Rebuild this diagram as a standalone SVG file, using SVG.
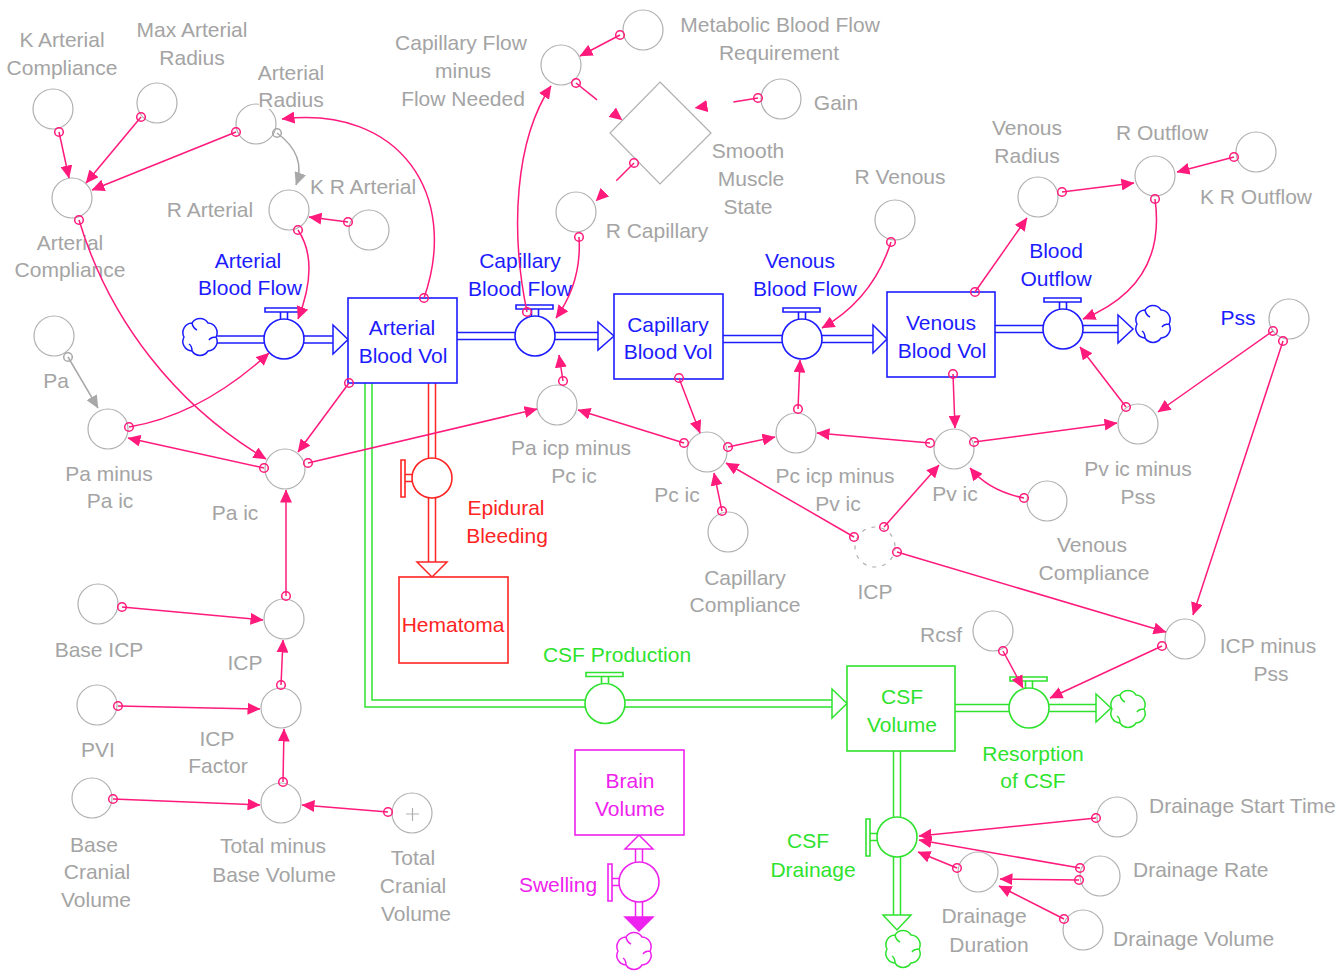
<svg xmlns="http://www.w3.org/2000/svg" width="1342" height="972" viewBox="0 0 1342 972">
<defs>
<style>
.aux{fill:none;stroke:#b0b0b0;stroke-width:1.2}
.t{font-family:"Liberation Sans",Arial,sans-serif;font-size:21px;text-anchor:middle;fill:#a4a4a4}
.ts{text-anchor:start}
.tb{fill:#1c1cff}.tr{fill:#ff2424}.tg{fill:#2ee22e}.tm{fill:#ee22ee}
.cn{fill:none;stroke:#ff1a7c;stroke-width:1.5;marker-start:url(#dot);marker-end:url(#ah)}
.cg{fill:none;stroke:#a8a8a8;stroke-width:1.5;marker-start:url(#dotg);marker-end:url(#ahg)}
.stk{fill:#fff;stroke-width:1.6}
.pipe{fill:none;stroke-width:8.5;stroke-linejoin:miter}
.core{fill:none;stroke:#fff;stroke-width:5.5;stroke-linejoin:miter}
.vlv{fill:#fff;stroke-width:1.6}
.ph{fill:#fff;stroke-width:1.5}
.cld{fill:#fff;stroke-width:1.5}
</style>
<marker id="ah" viewBox="0 0 13 12" markerUnits="userSpaceOnUse" markerWidth="13" markerHeight="12" refX="12.5" refY="6" orient="auto"><path d="M0,0L13,6L0,12z" fill="#ff1a7c"/></marker>
<marker id="dot" viewBox="0 0 12 12" markerUnits="userSpaceOnUse" markerWidth="12" markerHeight="12" refX="6" refY="6"><circle cx="6" cy="6" r="4.3" fill="none" stroke="#ff1a7c" stroke-width="1.5"/></marker>
<marker id="ahg" viewBox="0 0 13 12" markerUnits="userSpaceOnUse" markerWidth="13" markerHeight="12" refX="12.5" refY="6" orient="auto"><path d="M0,0L13,6L0,12z" fill="#a8a8a8"/></marker>
<marker id="dotg" viewBox="0 0 12 12" markerUnits="userSpaceOnUse" markerWidth="12" markerHeight="12" refX="6" refY="6"><circle cx="6" cy="6" r="4.3" fill="none" stroke="#a8a8a8" stroke-width="1.5"/></marker>
<g id="valve"><circle r="20"/><path d="M-19,-31h37v4h-37z"/><path d="M-3.5,-27v7M3.5,-27v7" fill="none"/></g>
<path id="cloud" d="M-8,-14A9.5,9.5 0 0 1 8,-14A9.5,9.5 0 0 1 16,0A9.5,9.5 0 0 1 8,14A9.5,9.5 0 0 1 -8,14A9.5,9.5 0 0 1 -16,0A9.5,9.5 0 0 1 -8,-14Z M-8,-14q1,5 5,7 M16,0q-5,0 -7,3 M-8,14q0,-5 -3,-7"/>
</defs>
<rect width="1342" height="972" fill="#fff"/>

<!-- Flows and stocks -->
<g id="arterial_blood_flow">
<path class="pipe" stroke="#1c1cff" d="M217,339.5H334"/><path class="core" d="M217,339.5H334"/>
<polygon class="ph" stroke="#1c1cff" points="333,325 348,339.5 333,354"/>
<use href="#cloud" class="cld" stroke="#1c1cff" x="200" y="337"/>
<use href="#valve" class="vlv" stroke="#1c1cff" x="284" y="339"/>
<text class="t tb"><tspan x="248" y="268">Arterial</tspan><tspan x="250" y="295">Blood Flow</tspan></text>
</g>
<g id="capillary_blood_flow">
<path class="pipe" stroke="#1c1cff" d="M457,336H599"/><path class="core" d="M457,336H599"/>
<polygon class="ph" stroke="#1c1cff" points="598,322 614,336 598,350"/>
<use href="#valve" class="vlv" stroke="#1c1cff" x="535" y="336"/>
<text class="t tb"><tspan x="520" y="268">Capillary</tspan><tspan x="520" y="296">Blood Flow</tspan></text>
</g>
<g id="venous_blood_flow">
<path class="pipe" stroke="#1c1cff" d="M723,339H874"/><path class="core" d="M723,339H874"/>
<polygon class="ph" stroke="#1c1cff" points="873,325 887,339 873,353"/>
<use href="#valve" class="vlv" stroke="#1c1cff" x="802" y="339"/>
<text class="t tb"><tspan x="800" y="268">Venous</tspan><tspan x="805" y="296">Blood Flow</tspan></text>
</g>
<g id="blood_outflow">
<path class="pipe" stroke="#1c1cff" d="M995,329H1119"/><path class="core" d="M995,329H1119"/>
<polygon class="ph" stroke="#1c1cff" points="1118,315 1133,329 1118,343"/>
<use href="#cloud" class="cld" stroke="#1c1cff" x="1153" y="324"/>
<use href="#valve" class="vlv" stroke="#1c1cff" x="1063" y="329"/>
<text class="t tb"><tspan x="1056" y="258">Blood</tspan><tspan x="1056" y="286">Outflow</tspan></text>
</g>
<g id="epidural_bleeding">
<path class="pipe" stroke="#ff2424" d="M432,383V563"/><path class="core" d="M432,383V563"/>
<polygon class="ph" stroke="#ff2424" points="417,562 432,577 447,562"/>
<use href="#valve" class="vlv" stroke="#ff2424" transform="translate(432,478) rotate(-90)"/>
<text class="t tr"><tspan x="506" y="515">Epidural</tspan><tspan x="507" y="543">Bleeding</tspan></text>
</g>
<g id="csf_production">
<path class="pipe" stroke="#2ee22e" d="M368.5,383V703.5H833"/><path class="core" d="M368.5,383V703.5H833"/>
<polygon class="ph" stroke="#2ee22e" points="832,689 847,703.5 832,718"/>
<use href="#valve" class="vlv" stroke="#2ee22e" x="605" y="703.5"/>
<text class="t tg" x="617" y="662">CSF Production</text>
</g>
<g id="resorption_of_csf">
<path class="pipe" stroke="#2ee22e" d="M955,708H1097"/><path class="core" d="M955,708H1097"/>
<polygon class="ph" stroke="#2ee22e" points="1096,694 1111,708 1096,722"/>
<use href="#cloud" class="cld" stroke="#2ee22e" x="1128" y="709"/>
<use href="#valve" class="vlv" stroke="#2ee22e" x="1029" y="708"/>
<text class="t tg"><tspan x="1033" y="761">Resorption</tspan><tspan x="1033" y="788">of CSF</tspan></text>
</g>
<g id="csf_drainage">
<path class="pipe" stroke="#2ee22e" d="M897,751V916"/><path class="core" d="M897,751V916"/>
<polygon class="ph" stroke="#2ee22e" points="883,915 897,930 911,915"/>
<use href="#cloud" class="cld" stroke="#2ee22e" x="903" y="949"/>
<use href="#valve" class="vlv" stroke="#2ee22e" transform="translate(897,837) rotate(-90)"/>
<text class="t tg"><tspan x="808" y="848">CSF</tspan><tspan x="813" y="877">Drainage</tspan></text>
</g>
<g id="swelling">
<path class="pipe" stroke="#ee22ee" d="M639,848V918"/><path class="core" d="M639,848V918"/>
<polygon class="ph" stroke="#ee22ee" points="625,849 639,835 653,849"/>
<polygon fill="#ee22ee" stroke="#ee22ee" stroke-width="1.5" points="625,917 639,931 653,917"/>
<use href="#cloud" class="cld" stroke="#ee22ee" x="634" y="951"/>
<use href="#valve" class="vlv" stroke="#ee22ee" transform="translate(639,882) rotate(-90)"/>
<text class="t tm" x="558" y="892">Swelling</text>
</g>

<g id="arterial_blood_vol"><rect class="stk" stroke="#1c1cff" x="348" y="298" width="109" height="85"/><text class="t tb"><tspan x="402" y="335">Arterial</tspan><tspan x="403" y="363">Blood Vol</tspan></text></g>
<g id="capillary_blood_vol"><rect class="stk" stroke="#1c1cff" x="614" y="294" width="109" height="85"/><text class="t tb"><tspan x="668" y="332">Capillary</tspan><tspan x="668" y="359">Blood Vol</tspan></text></g>
<g id="venous_blood_vol"><rect class="stk" stroke="#1c1cff" x="887" y="292" width="108" height="85"/><text class="t tb"><tspan x="941" y="330">Venous</tspan><tspan x="942" y="358">Blood Vol</tspan></text></g>
<g id="hematoma"><rect class="stk" stroke="#ff2424" x="399" y="577" width="109" height="86"/><text class="t tr" x="453" y="632">Hematoma</text></g>
<g id="csf_volume"><rect class="stk" stroke="#2ee22e" x="847" y="666" width="108" height="85"/><text class="t tg"><tspan x="902" y="704">CSF</tspan><tspan x="902" y="732">Volume</tspan></text></g>
<g id="brain_volume"><rect class="stk" stroke="#ee22ee" x="575" y="750" width="109" height="85"/><text class="t tm"><tspan x="630" y="788">Brain</tspan><tspan x="630" y="816">Volume</tspan></text></g>

<!-- Auxiliaries -->
<g id="k_arterial_compliance"><circle class="aux" cx="53" cy="109" r="20"/><text class="t"><tspan x="62" y="47">K Arterial</tspan><tspan x="62" y="75">Compliance</tspan></text></g>
<g id="max_arterial_radius"><circle class="aux" cx="157" cy="103" r="20"/><text class="t"><tspan x="192" y="37">Max Arterial</tspan><tspan x="192" y="65">Radius</tspan></text></g>
<g id="arterial_radius"><circle class="aux" cx="256" cy="124" r="20"/><rect x="259" y="91" width="64" height="18" fill="#fff"/><text class="t"><tspan x="291" y="80">Arterial</tspan><tspan x="291" y="107">Radius</tspan></text></g>
<g id="arterial_compliance"><circle class="aux" cx="72" cy="198" r="20"/><text class="t"><tspan x="70" y="250">Arterial</tspan><tspan x="70" y="277">Compliance</tspan></text></g>
<g id="r_arterial"><circle class="aux" cx="289" cy="210" r="20"/><text class="t" x="210" y="217">R Arterial</text></g>
<g id="k_r_arterial"><circle class="aux" cx="369" cy="230" r="20"/><text class="t" x="363" y="194">K R Arterial</text></g>
<g id="capillary_flow_minus_flow_needed"><circle class="aux" cx="561" cy="65" r="20"/><text class="t"><tspan x="461" y="50">Capillary Flow</tspan><tspan x="463" y="78">minus</tspan><tspan x="463" y="106">Flow Needed</tspan></text></g>
<g id="metabolic_blood_flow_requirement"><circle class="aux" cx="643" cy="30" r="20"/><text class="t"><tspan x="780" y="32">Metabolic Blood Flow</tspan><tspan x="779" y="60">Requirement</tspan></text></g>
<g id="smooth_muscle_state"><polygon class="aux" points="660,82 711,133 660,184 610,133"/><text class="t"><tspan x="748" y="158">Smooth</tspan><tspan x="751" y="186">Muscle</tspan><tspan x="748" y="214">State</tspan></text></g>
<g id="gain"><circle class="aux" cx="781" cy="99" r="20"/><text class="t" x="836" y="110">Gain</text></g>
<g id="r_capillary"><circle class="aux" cx="576" cy="212" r="20"/><text class="t" x="657" y="238">R Capillary</text></g>
<g id="r_venous"><circle class="aux" cx="895" cy="220" r="20"/><text class="t" x="900" y="184">R Venous</text></g>
<g id="venous_radius"><circle class="aux" cx="1038" cy="197" r="20"/><text class="t"><tspan x="1027" y="135">Venous</tspan><tspan x="1027" y="163">Radius</tspan></text></g>
<g id="r_outflow"><circle class="aux" cx="1155" cy="176" r="20"/><text class="t" x="1162" y="140">R Outflow</text></g>
<g id="k_r_outflow"><circle class="aux" cx="1256" cy="152" r="20"/><text class="t" x="1256" y="204">K R Outflow</text></g>
<g id="pa"><circle class="aux" cx="54" cy="336" r="20"/><text class="t" x="56" y="388">Pa</text></g>
<g id="pa_minus_pa_ic"><circle class="aux" cx="108" cy="429" r="20"/><text class="t"><tspan x="109" y="481">Pa minus</tspan><tspan x="110" y="508">Pa ic</tspan></text></g>
<g id="pa_ic"><circle class="aux" cx="285" cy="469" r="20"/><text class="t" x="235" y="520">Pa ic</text></g>
<g id="pa_icp_minus_pc_ic"><circle class="aux" cx="557" cy="405" r="20"/><text class="t"><tspan x="571" y="455">Pa icp minus</tspan><tspan x="574" y="483">Pc ic</tspan></text></g>
<g id="pc_ic"><circle class="aux" cx="707" cy="452" r="20"/><text class="t" x="677" y="502">Pc ic</text></g>
<g id="capillary_compliance"><circle class="aux" cx="728" cy="532" r="20"/><text class="t"><tspan x="745" y="585">Capillary</tspan><tspan x="745" y="612">Compliance</tspan></text></g>
<g id="pc_icp_minus_pv_ic"><circle class="aux" cx="796" cy="433" r="20"/><text class="t"><tspan x="835" y="483">Pc icp minus</tspan><tspan x="838" y="511">Pv ic</tspan></text></g>
<g id="pv_ic"><circle class="aux" cx="954" cy="449" r="20"/><text class="t" x="955" y="501">Pv ic</text></g>
<g id="venous_compliance"><circle class="aux" cx="1047" cy="501" r="20"/><text class="t"><tspan x="1092" y="552">Venous</tspan><tspan x="1094" y="580">Compliance</tspan></text></g>
<g id="icp_shadow"><circle class="aux" cx="875" cy="547" r="20" stroke-dasharray="4 6"/><text class="t" x="875" y="599">ICP</text></g>
<g id="pv_ic_minus_pss"><circle class="aux" cx="1138" cy="424" r="20"/><text class="t"><tspan x="1138" y="476">Pv ic minus</tspan><tspan x="1138" y="504">Pss</tspan></text></g>
<g id="pss"><circle class="aux" stroke="#1c1cff" cx="1289" cy="319" r="20"/><text class="t tb" x="1238" y="325">Pss</text></g>
<g id="icp_minus_pss"><circle class="aux" cx="1185" cy="639" r="20"/><text class="t"><tspan x="1268" y="653">ICP minus</tspan><tspan x="1271" y="681">Pss</tspan></text></g>
<g id="rcsf"><circle class="aux" cx="993" cy="631" r="20"/><text class="t" x="941" y="642">Rcsf</text></g>
<g id="base_icp"><circle class="aux" cx="98" cy="604" r="20"/><text class="t" x="99" y="657">Base ICP</text></g>
<g id="icp"><circle class="aux" cx="284" cy="619" r="20"/><text class="t" x="245" y="670">ICP</text></g>
<g id="pvi"><circle class="aux" cx="97" cy="705" r="20"/><text class="t" x="98" y="757">PVI</text></g>
<g id="icp_factor"><circle class="aux" cx="281" cy="708" r="20"/><text class="t"><tspan x="217" y="746">ICP</tspan><tspan x="218" y="773">Factor</tspan></text></g>
<g id="base_cranial_volume"><circle class="aux" cx="92" cy="798" r="20"/><text class="t"><tspan x="94" y="852">Base</tspan><tspan x="97" y="879">Cranial</tspan><tspan x="96" y="907">Volume</tspan></text></g>
<g id="total_minus_base_volume"><circle class="aux" cx="281" cy="803" r="20"/><text class="t"><tspan x="273" y="853">Total minus</tspan><tspan x="274" y="882">Base Volume</tspan></text></g>
<g id="total_cranial_volume"><circle class="aux" cx="412" cy="813" r="20"/><path class="aux" d="M406,814h13M412.5,808v13"/><text class="t"><tspan x="413" y="865">Total</tspan><tspan x="413" y="893">Cranial</tspan><tspan x="416" y="921">Volume</tspan></text></g>
<g id="drainage_start_time"><circle class="aux" cx="1117" cy="817" r="20"/><text class="t ts" x="1149" y="813">Drainage Start Time</text></g>
<g id="drainage_rate"><circle class="aux" cx="1100" cy="876" r="20"/><text class="t ts" x="1133" y="877">Drainage Rate</text></g>
<g id="drainage_duration"><circle class="aux" cx="978" cy="872" r="20"/><text class="t"><tspan x="984" y="923">Drainage</tspan><tspan x="989" y="952">Duration</tspan></text></g>
<g id="drainage_volume"><circle class="aux" cx="1083" cy="930" r="20"/><text class="t ts" x="1113" y="946">Drainage Volume</text></g>

<!-- Connectors -->
<g id="connectors">
<path class="cn" d="M59,132L69,178"/>
<path class="cn" d="M141,117L86,183"/>
<path class="cn" d="M236,132L92,190"/>
<path class="cg" d="M277,133Q307,155 296,185"/>
<path class="cn" d="M348,222L309,217"/>
<path class="cn" d="M424,298C460,195 400,105 282,119"/>
<path class="cn" d="M298,230Q320,263 298,319"/>
<path class="cn" d="M79,220A418,418 0 0 0 266,459"/>
<path class="cg" d="M68,357L98,408"/>
<path class="cn" d="M129,427Q201,415 269,353"/>
<path class="cn" d="M264,468L128,438"/>
<path class="cn" d="M349,383L298,452"/>
<path class="cn" d="M308,463L537,409"/>
<path class="cn" d="M286,596L286,490"/>
<path class="cn" d="M122,607L263,620"/>
<path class="cn" d="M281,685L283,640"/>
<path class="cn" d="M118,706L260,709"/>
<path class="cn" d="M283,782L284,729"/>
<path class="cn" d="M113,799L260,805"/>
<path class="cn" d="M388,812L302,805"/>
<path class="cn" d="M527,312C510,230 515,140 551,86"/>
<path class="cn" d="M620,35L580,56"/>
<path class="cn" stroke-dasharray="27 200" d="M576,83L622,120"/>
<path class="cn" stroke-dasharray="25 200" d="M758,98L695,108"/>
<path class="cn" stroke-dasharray="25 200" d="M634,163L596,201"/>
<path class="cn" d="M579,237Q582,282 556,318"/>
<path class="cn" d="M563,381L559,355"/>
<path class="cn" d="M679,378L700,433"/>
<path class="cn" d="M684,443L578,410"/>
<path class="cn" d="M728,447L775,437"/>
<path class="cn" d="M722,511L714,473"/>
<path class="cn" d="M854,537L726,463"/>
<path class="cn" d="M884,527L939,465"/>
<path class="cn" d="M897,552L1166,632"/>
<path class="cn" d="M798,409L800,360"/>
<path class="cn" d="M930,443L817,433"/>
<path class="cn" d="M953,374L955,428"/>
<path class="cn" d="M1024,498Q989,491 970,468"/>
<path class="cn" d="M974,442L1117,423"/>
<path class="cn" d="M1126,407L1080,347"/>
<path class="cn" d="M1273,331L1158,412"/>
<path class="cn" d="M1283,341L1193,615"/>
<path class="cn" d="M891,242Q873,299 822,328"/>
<path class="cn" d="M975,292L1027,218"/>
<path class="cn" d="M1062,192L1134,183"/>
<path class="cn" d="M1234,157L1177,172"/>
<path class="cn" d="M1155,199Q1167,285 1083,319"/>
<path class="cn" d="M1003,651L1023,688"/>
<path class="cn" d="M1162,646L1050,698"/>
<path class="cn" d="M1096,818L919,836"/>
<path class="cn" d="M1080,868L919,840"/>
<path class="cn" d="M1079,880L1000,879"/>
<path class="cn" d="M957,868L918,852"/>
<path class="cn" d="M1064,919L999,886"/>
</g>
</svg>
